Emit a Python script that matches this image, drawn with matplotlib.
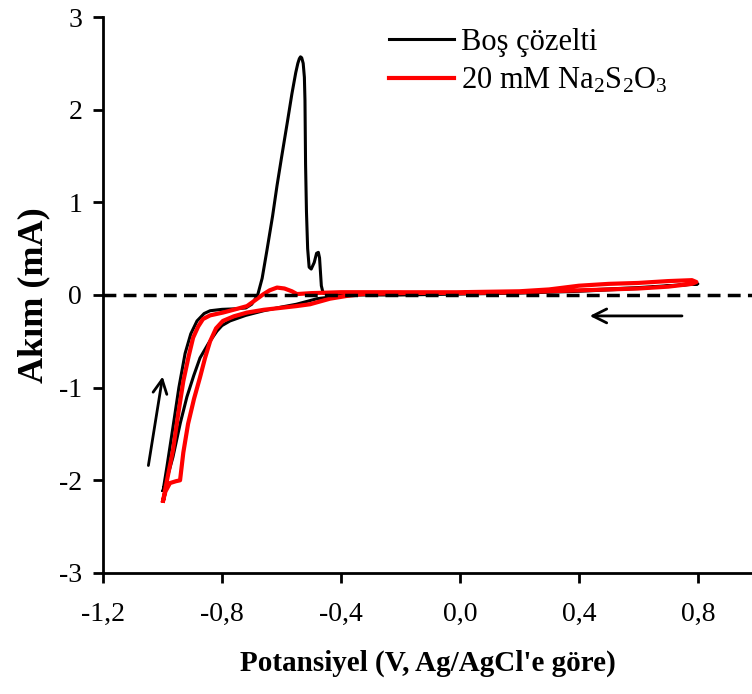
import matplotlib
matplotlib.use("Agg")
import matplotlib.pyplot as plt

plt.rcParams['font.family'] = ['Liberation Serif', 'DejaVu Serif']
plt.rcParams['mathtext.fontset'] = 'custom'
plt.rcParams['mathtext.rm'] = 'Liberation Serif'

# blank solution, forward scan (from -1.0 V towards positive potentials)
blank_fwd_x = [-0.998, -0.985, -0.965, -0.945, -0.924, -0.905, -0.884, -0.86, -0.84, -0.80,
               -0.76, -0.72, -0.70, -0.68, -0.665, -0.649, -0.63, -0.615, -0.60, -0.58,
               -0.565, -0.552, -0.545, -0.54, -0.536, -0.532, -0.527, -0.523, -0.521, -0.519,
               -0.516, -0.512, -0.507, -0.50, -0.49, -0.482, -0.476, -0.472, -0.469, -0.466,
               -0.46, -0.44, -0.40, -0.3, -0.2, 0.0, 0.2, 0.4, 0.6, 0.8]
blank_fwd_y = [-2.11, -1.85, -1.43, -1.0, -0.63, -0.42, -0.28, -0.20, -0.17, -0.155,
               -0.15, -0.14, -0.10, 0.0, 0.18, 0.48, 0.85, 1.18, 1.48, 1.87,
               2.17, 2.40, 2.50, 2.55, 2.57, 2.56, 2.50, 2.35, 2.1, 1.41,
               0.9, 0.5, 0.3, 0.28, 0.35, 0.45, 0.46, 0.4, 0.25, 0.1,
               0.02, 0.0, 0.01, 0.02, 0.02, 0.02, 0.03, 0.05, 0.08, 0.12]
# blank solution, reverse scan
blank_rev_x = [0.8, 0.6, 0.4, 0.2, 0.0, -0.2, -0.38, -0.43, -0.48, -0.55, -0.60, -0.66,
               -0.72, -0.773, -0.80, -0.817, -0.845, -0.874, -0.895, -0.918, -0.94, -0.965,
               -0.985, -0.998]
blank_rev_y = [0.12, 0.07, 0.04, 0.02, 0.01, 0.0, 0.0, -0.02, -0.04, -0.1, -0.13, -0.17,
               -0.22, -0.28, -0.33, -0.39, -0.52, -0.68, -0.87, -1.1, -1.38, -1.75,
               -1.98, -2.11]

# 20 mM Na2S2O3, forward scan
thio_fwd_x = [-0.998, -0.985, -0.965, -0.948, -0.93, -0.912, -0.897, -0.88, -0.864, -0.84,
              -0.797, -0.75, -0.716, -0.69, -0.66, -0.64, -0.615, -0.59, -0.565, -0.548,
              -0.5, -0.4, -0.2, 0.0, 0.2, 0.3, 0.4, 0.5, 0.6, 0.7, 0.78, 0.795]
thio_fwd_y = [-2.22, -2.0, -1.68, -1.3, -0.93, -0.66, -0.46, -0.34, -0.26, -0.22,
              -0.19, -0.15, -0.12, -0.06, 0.01, 0.05, 0.08, 0.07, 0.04, 0.01,
              0.02, 0.03, 0.03, 0.02, 0.03, 0.04, 0.05, 0.06, 0.07, 0.09, 0.12, 0.14]
# 20 mM Na2S2O3, reverse scan
thio_rev_x = [0.795, 0.78, 0.7, 0.6, 0.5, 0.45, 0.4, 0.3, 0.2, 0.0, -0.2, -0.326, -0.38,
              -0.437, -0.504, -0.55, -0.605, -0.66, -0.716, -0.76, -0.797, -0.82, -0.84,
              -0.857, -0.874, -0.894, -0.914, -0.93, -0.941, -0.955, -0.975, -0.99, -0.998]
thio_rev_y = [0.14, 0.16, 0.15, 0.13, 0.12, 0.11, 0.1, 0.06, 0.04, 0.03, 0.02, 0.01, -0.01,
              -0.04, -0.1, -0.12, -0.14, -0.16, -0.19, -0.23, -0.28, -0.36, -0.5,
              -0.68, -0.89, -1.12, -1.39, -1.7, -2.0, -2.01, -2.03, -2.12, -2.22]

x_ticks = [-1.2, -0.8, -0.4, 0.0, 0.4, 0.8]
x_ticklabels = ['-1,2', '-0,8', '-0,4', '0,0', '0,4', '0,8']
y_ticks = [-3, -2, -1, 0, 1, 2, 3]

fig = plt.figure(figsize=(7.52, 6.94), dpi=100)
ax = fig.add_axes([0.137, 0.1744, 0.863, 0.8011])

ax.plot(blank_fwd_x + blank_rev_x, blank_fwd_y + blank_rev_y, color='black', lw=2.2,
        label='Boş çözelti', zorder=2)
ax.plot(thio_fwd_x + thio_rev_x, thio_fwd_y + thio_rev_y, color='#ff0000', lw=3,
        label=r'20 mM Na$\mathregular{_2}$S$\mathregular{_2}$O$\mathregular{_3}$', zorder=3)
ax.axhline(0, color='black', lw=2.5, ls=(0, (3.7, 2.1)), zorder=4)

# scan direction arrows
ax.annotate('', xy=(-0.998, -0.85), xytext=(-1.049, -1.87),
            arrowprops=dict(arrowstyle='->', lw=2, color='black', mutation_scale=25))
ax.annotate('', xy=(0.427, -0.226), xytext=(0.756, -0.226),
            arrowprops=dict(arrowstyle='->', lw=2, color='black', mutation_scale=25))

ax.set_xlim(-1.2, 0.982)
ax.set_ylim(-3, 3)
ax.set_xticks(x_ticks)
ax.set_xticklabels(x_ticklabels)
ax.set_yticks(y_ticks)
ax.set_yticklabels([str(v) for v in y_ticks])

for s in ['top', 'right']:
    ax.spines[s].set_visible(False)
for s in ['left', 'bottom']:
    ax.spines[s].set_linewidth(2)
ax.tick_params(direction='out', length=7, width=2, labelsize=20, pad=8)
ax.tick_params(axis='x', pad=14)

ax.set_xlabel("Potansiyel (V, Ag/AgCl'e göre)", fontsize=21, fontweight='bold', labelpad=16)
ax.set_ylabel('Akım (mA)', fontsize=26, fontweight='bold', labelpad=6)

ax.legend(loc='upper left', bbox_to_anchor=(0.399, 1.03), frameon=False, fontsize=22,
          handlelength=2.1, handletextpad=0.25, labelspacing=0.3)

fig.savefig('out.png', dpi=100)
